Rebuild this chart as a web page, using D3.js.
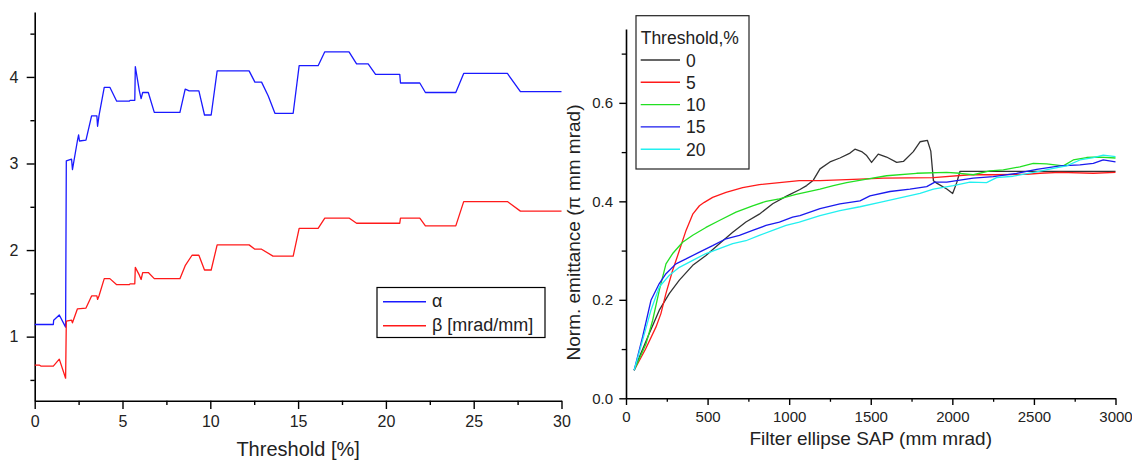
<!DOCTYPE html>
<html>
<head>
<meta charset="utf-8">
<script src="https://cdn.jsdelivr.net/npm/d3@7"></script>
<style>
  html, body { margin: 0; padding: 0; background: #fff; }
  svg { display: block; font-family: "Liberation Sans", Arial, sans-serif; }
  .axis path, .axis line { stroke: #000; }
  .axis text { fill: #222; font-family: "Liberation Sans", Arial, sans-serif; }
</style>
</head>
<body>
<svg id="chart" width="1132" height="461"></svg>
<script>
// ---------- Left chart data (Threshold [%] vs value) ----------
const leftXTicks = [0, 5, 10, 15, 20, 25, 30];
const leftXMinor = [2.5, 7.5, 12.5, 17.5, 22.5, 27.5];
const leftYTicks = [1, 2, 3, 4];
const leftYMinor = [0.5, 1.5, 2.5, 3.5, 4.5];
const leftSeriesNames = ["α", "β [mrad/mm]"];
const alphaValues = [[0,1.14],[1.06,1.14],[1.08,1.19],[1.4,1.25],[1.76,1.11],[1.8,3.03],[2.1,3.05],[2.15,2.93],[2.43,3.26],[2.5,3.33],[2.55,3.26],[2.92,3.27],[3.24,3.55],[3.54,3.55],[3.58,3.43],[3.66,3.55],[3.96,3.88],[4.28,3.88],[4.67,3.72],[5.39,3.72],[5.43,3.73],[5.7,3.73],[5.73,4.12],[5.96,3.84],[6.06,3.75],[6.15,3.82],[6.47,3.82],[6.81,3.59],[8.27,3.59],[8.57,3.86],[8.8,3.84],[9.35,3.84],[9.67,3.56],[10.05,3.56],[10.39,4.07],[12.21,4.07],[12.54,3.94],[12.92,3.94],[13.3,3.78],[13.68,3.58],[14.72,3.58],[15.06,4.13],[16.14,4.13],[16.52,4.29],[17.9,4.29],[18.33,4.15],[18.99,4.15],[19.41,4.03],[20.79,4.03],[20.83,3.93],[21.93,3.93],[22.25,3.82],[23.98,3.82],[24.43,4.04],[26.92,4.04],[27.66,3.83],[30,3.83]];
const betaValues = [[0,0.67],[0.28,0.67],[0.35,0.66],[1.06,0.66],[1.4,0.74],[1.76,0.52],[1.8,1.18],[2.1,1.19],[2.15,1.16],[2.43,1.32],[2.92,1.33],[3.24,1.47],[3.54,1.47],[3.58,1.43],[3.66,1.47],[3.96,1.67],[4.28,1.67],[4.67,1.60],[5.39,1.60],[5.43,1.61],[5.7,1.61],[5.73,1.80],[5.96,1.71],[6.06,1.66],[6.15,1.74],[6.47,1.74],[6.81,1.67],[8.27,1.67],[8.57,1.82],[8.96,1.94],[9.35,1.94],[9.67,1.77],[10.05,1.77],[10.39,2.06],[12.21,2.06],[12.54,2.01],[12.92,2.01],[13.57,1.93],[14.72,1.93],[15.06,2.25],[16.14,2.25],[16.52,2.37],[17.9,2.37],[18.33,2.31],[20.79,2.31],[20.83,2.37],[21.93,2.37],[22.25,2.28],[23.98,2.28],[24.43,2.56],[26.92,2.56],[27.66,2.45],[30,2.45]];
const leftColors = ["#1a1aff", "#ff1a1a"];

// ---------- Right chart data (Filter ellipse SAP vs emittance) ----------
const rightXTicks = [0, 500, 1000, 1500, 2000, 2500, 3000];
const rightXMinor = [250, 750, 1250, 1750, 2250, 2750];
const rightYTicks = [0.0, 0.2, 0.4, 0.6];
const rightYMinor = [0.1, 0.3, 0.5, 0.7];
const thresholds = ["0", "5", "10", "15", "20"];
const emit0 = [[50,0.057],[82,0.084],[143,0.132],[204,0.179],[266,0.213],[327,0.240],[409,0.27],[490,0.29],[572,0.314],[654,0.337],[735,0.358],[817,0.374],[899,0.395],[981,0.41],[1066,0.424],[1107,0.432],[1148,0.443],[1189,0.466],[1250,0.480],[1311,0.488],[1373,0.498],[1403,0.506],[1444,0.501],[1475,0.493],[1505,0.479],[1546,0.496],[1597,0.490],[1659,0.479],[1700,0.481],[1761,0.501],[1802,0.521],[1847,0.524],[1868,0.502],[1884,0.442],[1904,0.437],[1966,0.425],[2002,0.416],[2027,0.438],[2047,0.461],[2108,0.461],[2400,0.461],[2700,0.461],[3000,0.461]];
const emit5 = [[50,0.057],[120,0.10],[184,0.145],[214,0.172],[245,0.213],[286,0.26],[327,0.30],[368,0.341],[409,0.374],[450,0.391],[480,0.398],[531,0.408],[613,0.418],[715,0.428],[817,0.434],[940,0.438],[1062,0.442],[1189,0.442],[1434,0.445],[1577,0.447],[1883,0.448],[2108,0.454],[2251,0.454],[2456,0.455],[2537,0.457],[2660,0.459],[2864,0.457],[3000,0.459]];
const emit10 = [[50,0.057],[123,0.111],[163,0.158],[204,0.219],[245,0.273],[286,0.294],[347,0.317],[409,0.331],[490,0.347],[572,0.361],[674,0.378],[776,0.391],[858,0.40],[940,0.405],[1042,0.414],[1189,0.425],[1271,0.432],[1352,0.438],[1475,0.445],[1597,0.452],[1781,0.457],[1965,0.459],[2047,0.457],[2128,0.454],[2230,0.462],[2312,0.464],[2414,0.47],[2496,0.477],[2578,0.476],[2680,0.472],[2741,0.484],[2823,0.489],[2905,0.490],[3000,0.488]];
const emit15 = [[50,0.057],[102,0.125],[153,0.199],[204,0.233],[245,0.253],[306,0.273],[368,0.283],[450,0.297],[531,0.310],[613,0.324],[695,0.331],[776,0.341],[858,0.351],[940,0.358],[1021,0.368],[1066,0.371],[1189,0.385],[1311,0.395],[1434,0.401],[1495,0.411],[1618,0.42],[1740,0.425],[1843,0.43],[1893,0.439],[1966,0.439],[2047,0.443],[2128,0.447],[2251,0.45],[2394,0.457],[2517,0.465],[2660,0.472],[2782,0.474],[2864,0.477],[2925,0.484],[3000,0.480]];
const emit20 = [[50,0.057],[102,0.118],[153,0.179],[204,0.226],[266,0.25],[327,0.266],[409,0.28],[490,0.294],[572,0.304],[654,0.314],[735,0.32],[817,0.331],[899,0.341],[981,0.351],[1062,0.358],[1189,0.371],[1311,0.381],[1434,0.389],[1556,0.398],[1679,0.407],[1802,0.416],[1884,0.425],[2006,0.432],[2108,0.439],[2210,0.438],[2271,0.448],[2373,0.451],[2517,0.46],[2619,0.467],[2700,0.472],[2782,0.484],[2864,0.489],[2925,0.494],[3000,0.491]];
const rightColors = ["#333333", "#ff1a1a", "#22e022", "#1a1aee", "#22f0f0"];

const svg = d3.select("#chart");

// ================= LEFT CHART =================
const lx = d3.scaleLinear().domain([0, 30]).range([34.7, 561.5]);
const ly = d3.scaleLinear().domain([0.26, 4.75]).range([400.7, 12]);

const L = svg.append("g");

function styleAxis(g, fs) {
  g.select(".domain").attr("stroke", "#000").attr("stroke-width", 1.6);
  g.selectAll(".tick line").attr("stroke", "#000").attr("stroke-width", 1.4);
  g.selectAll("text").style("font-size", fs + "px");
}

// left x axis
L.append("g").attr("class", "axis").attr("transform", `translate(0,${ly.range()[0]})`)
  .call(d3.axisBottom(lx).tickValues(leftXMinor).tickSize(4.3).tickFormat("").tickSizeOuter(0))
  .call(g => { g.select(".domain").remove(); g.selectAll(".tick line").attr("stroke", "#000").attr("stroke-width", 1.4); });
L.append("g").attr("class", "axis").attr("transform", `translate(0,${ly.range()[0]})`)
  .call(d3.axisBottom(lx).tickValues(leftXTicks).tickSize(8.3).tickPadding(6.5).tickFormat(d3.format("d")).tickSizeOuter(0))
  .call(g => styleAxis(g, 16));

// left y axis
L.append("g").attr("class", "axis").attr("transform", `translate(${lx.range()[0]},0)`)
  .call(d3.axisLeft(ly).tickValues(leftYMinor).tickSize(4.3).tickFormat("").tickSizeOuter(0))
  .call(g => { g.select(".domain").remove(); g.selectAll(".tick line").attr("stroke", "#000").attr("stroke-width", 1.4); });
L.append("g").attr("class", "axis").attr("transform", `translate(${lx.range()[0]},0)`)
  .call(d3.axisLeft(ly).tickValues(leftYTicks).tickSize(8).tickPadding(8.4).tickFormat(d3.format("d")).tickSizeOuter(0))
  .call(g => styleAxis(g, 16));

L.append("text").attr("x", (lx.range()[0] + lx.range()[1]) / 2).attr("y", 456)
  .attr("text-anchor", "middle").style("font-size", "20px").attr("fill", "#222")
  .text("Threshold [%]");

const lline = d3.line().x(d => lx(d[0])).y(d => ly(d[1]));
[alphaValues, betaValues].forEach((s, i) => {
  L.append("path").datum(s).attr("d", lline).attr("fill", "none")
    .attr("stroke", leftColors[i]).attr("stroke-width", 1.3).attr("stroke-linejoin", "round");
});

// left legend
const LL = L.append("g");
LL.append("rect").attr("x", 377).attr("y", 287.5).attr("width", 168).attr("height", 50)
  .attr("fill", "#fff").attr("stroke", "#000").attr("stroke-width", 1.2);
leftSeriesNames.forEach((n, i) => {
  const yy = 301.7 + i * 24;
  LL.append("line").attr("x1", 383).attr("x2", 426).attr("y1", yy).attr("y2", yy)
    .attr("stroke", leftColors[i]).attr("stroke-width", 1.4);
  LL.append("text").attr("x", 432).attr("y", yy + 5.5).style("font-size", "18px")
    .attr("fill", "#222").text(n);
});

// ================= RIGHT CHART =================
const rx = d3.scaleLinear().domain([0, 3000]).range([626, 1115.5]);
const ry = d3.scaleLinear().domain([0, 0.75]).range([398.3, 29]);
const R = svg.append("g");

R.append("g").attr("class", "axis").attr("transform", `translate(0,${ry.range()[0]})`)
  .call(d3.axisBottom(rx).tickValues(rightXMinor).tickSize(3.5).tickFormat("").tickSizeOuter(0))
  .call(g => { g.select(".domain").remove(); g.selectAll(".tick line").attr("stroke", "#000").attr("stroke-width", 1.3); });
R.append("g").attr("class", "axis").attr("transform", `translate(0,${ry.range()[0]})`)
  .call(d3.axisBottom(rx).tickValues(rightXTicks).tickSize(6.7).tickPadding(6.5).tickFormat(d3.format("d")).tickSizeOuter(0))
  .call(g => styleAxis(g, 15));

R.append("g").attr("class", "axis").attr("transform", `translate(${rx.range()[0]},0)`)
  .call(d3.axisLeft(ry).tickValues(rightYMinor).tickSize(4.3).tickFormat("").tickSizeOuter(0))
  .call(g => { g.select(".domain").remove(); g.selectAll(".tick line").attr("stroke", "#000").attr("stroke-width", 1.3); });
R.append("g").attr("class", "axis").attr("transform", `translate(${rx.range()[0]},0)`)
  .call(d3.axisLeft(ry).tickValues(rightYTicks).tickSize(6.7).tickPadding(6.3).tickFormat(d3.format(".1f")).tickSizeOuter(0))
  .call(g => styleAxis(g, 15));

R.append("text").attr("x", (rx.range()[0] + rx.range()[1]) / 2).attr("y", 445)
  .attr("text-anchor", "middle").style("font-size", "19px").attr("fill", "#222")
  .text("Filter ellipse SAP (mm mrad)");
R.append("text").attr("transform", "translate(580,232.5) rotate(-90)")
  .attr("text-anchor", "middle").style("font-size", "19px").attr("fill", "#222")
  .text("Norm. emittance (π mm mrad)");

const rline = d3.line().x(d => rx(d[0])).y(d => ry(d[1]));
[emit0, emit5, emit10, emit15, emit20].forEach((s, i) => {
  R.append("path").datum(s).attr("d", rline).attr("fill", "none")
    .attr("stroke", rightColors[i]).attr("stroke-width", 1.3).attr("stroke-linejoin", "round");
});

// right legend
const RL = R.append("g");
RL.append("rect").attr("x", 636).attr("y", 15.7).attr("width", 113).attr("height", 153.3)
  .attr("fill", "#fff").attr("stroke", "#222").attr("stroke-width", 1.2);
RL.append("text").attr("x", 640.7).attr("y", 44).style("font-size", "17.5px")
  .attr("fill", "#222").text("Threshold,%");
thresholds.forEach((t, i) => {
  const yy = 60 + i * 22.3;
  RL.append("line").attr("x1", 640.7).attr("x2", 680).attr("y1", yy).attr("y2", yy)
    .attr("stroke", rightColors[i]).attr("stroke-width", 1.4);
  RL.append("text").attr("x", 686).attr("y", yy + 6.5).style("font-size", "17.5px")
    .attr("fill", "#222").text(t);
});
</script>
</body>
</html>
